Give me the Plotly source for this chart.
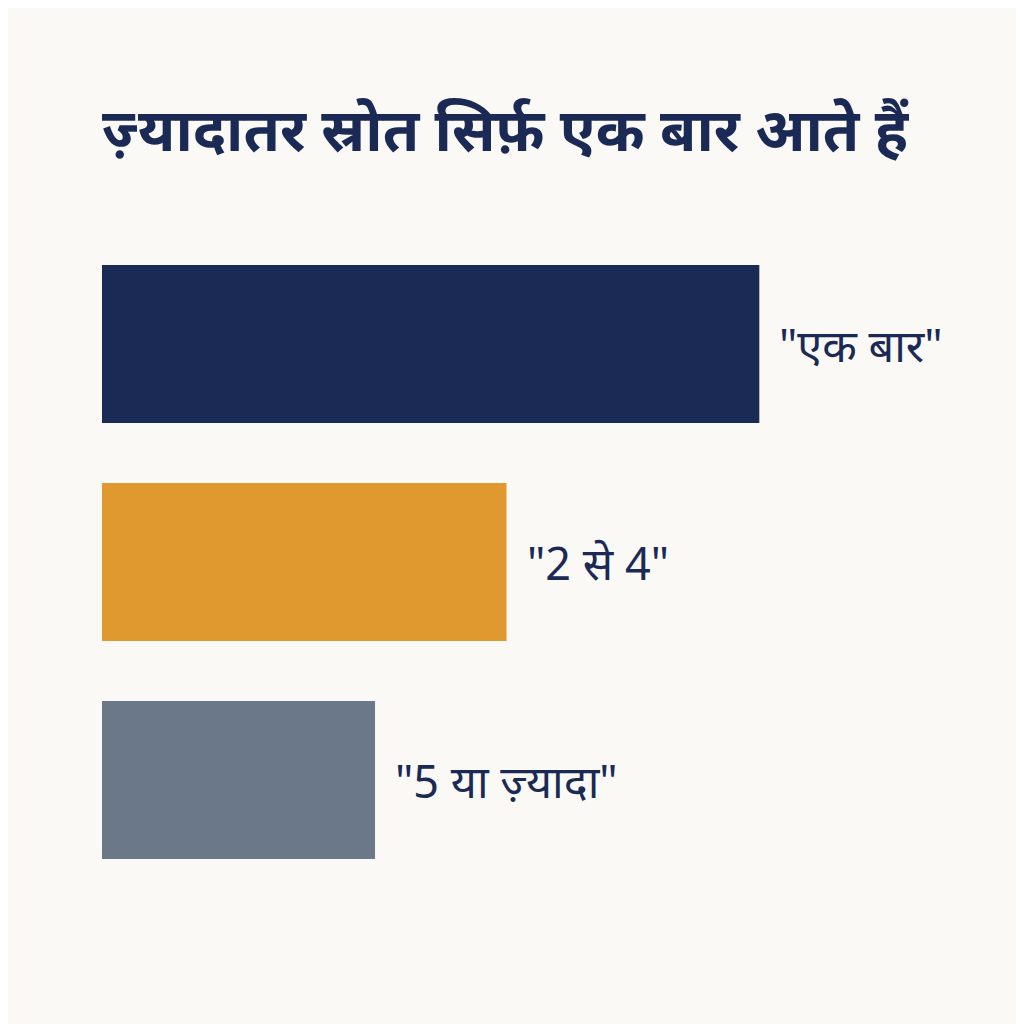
import plotly.graph_objects as go

categories = ['"एक बार"', '"2 से 4"', '"5 या ज़्यादा"']
values = [65, 40, 27]
colors = ["#1B2A55", "#E0992E", "#6A7889"]
title_text = "ज़्यादातर स्रोत सिर्फ़ एक बार आते हैं"

FONT = "Noto Sans, Noto Sans Devanagari, sans-serif"

fig = go.Figure()
fig.add_trace(go.Bar(
    y=categories, x=values, orientation="h",
    marker=dict(color=colors, line=dict(width=0)),
    hoverinfo="skip", showlegend=False,
))
for c, v in zip(categories, values):
    fig.add_annotation(x=v, y=c, text=c, showarrow=False, xanchor="left",
                       xshift=18, font=dict(size=45, color="#1B2A55", family=FONT))

fig.update_layout(
    width=1024, height=1024,
    paper_bgcolor="#FAF9F5", plot_bgcolor="#FAF9F5",
    margin=dict(l=94, r=32, t=227, b=143),
    bargap=0.275,
    title=dict(text="<b>" + title_text + "</b>", x=94/1024, xanchor="left",
               xref="container", y=1-122/1024, yref="container", yanchor="middle",
               font=dict(size=59, color="#1B2A55", family=FONT)),
    xaxis=dict(range=[0, 88.8], visible=False, fixedrange=True),
    yaxis=dict(autorange=False, range=[2.5, -0.5], visible=False,
               categoryorder="array", categoryarray=categories),
)
fig.write_html("out.html")
